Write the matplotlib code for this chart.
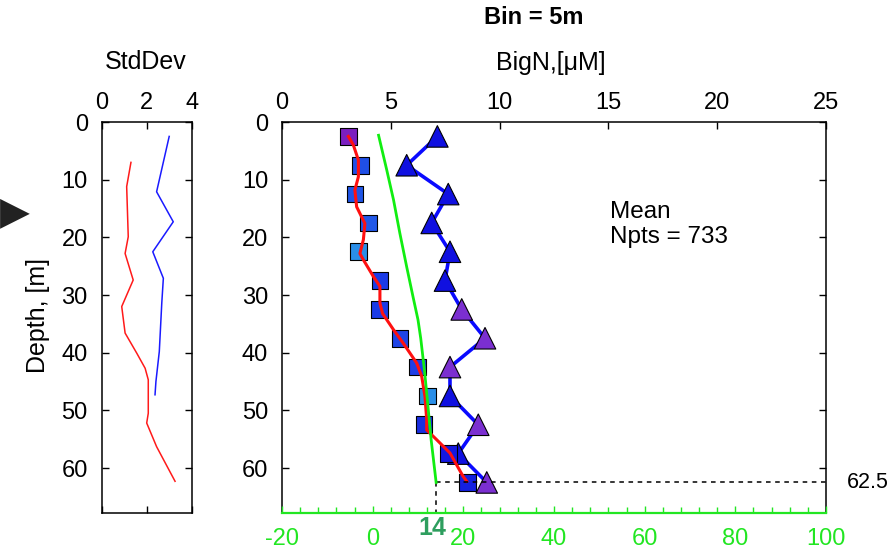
"""
Depth profile of BigN (5 m bins) with a std-dev side panel.
"""

import matplotlib
matplotlib.use('Agg')
from matplotlib import pyplot as plt
from matplotlib import ticker

plt.rcParams['font.family'] = ['Liberation Sans', 'DejaVu Sans']
plt.rcParams['axes.unicode_minus'] = False

# binned means, 5 m bins
depth_bins = [2.5, 7.5, 12.5, 17.5, 22.5, 27.5, 32.5, 37.5, 42.5, 47.5, 52.5, 57.5, 62.5]
square_vals = [3.05, 3.62, 3.35, 3.97, 3.51, 4.50, 4.47, 5.42, 6.22, 6.68, 6.53, 7.64, 8.52]
triangle_vals = [7.14, 5.73, 7.64, 6.88, 7.72, 7.49, 8.26, 9.33, 7.72, 7.72, 9.02, 8.10, 9.41]
square_colors = ['#7b1fc0', '#1f4fe6', '#1f55e6', '#2158e8', '#2a8ee8', '#1a3ae6', '#1a3ae6',
                 '#1f44e6', '#1f3ee6', '#2a8ee8', '#1a2ee0', '#1418e0', '#1420e0']
triangle_colors = ['#1010e0', '#1010e0', '#1010e0', '#1010e0', '#1010e0', '#1010e0', '#7b2fd0',
                   '#7b2fd0', '#7b2fd0', '#1010e0', '#7b2fd0', '#1010e0', '#7b2fd0']

# smoothed profile (red)
red_depth = [2.5, 4.0, 6.6, 9.5, 11.8, 14.7, 17.6, 20.4, 22.8, 23.9, 26.8, 28.5, 31.4, 33.2,
             36.0, 38.4, 41.8, 44.1, 47.6, 51.6, 53.4, 55.1, 57.4, 61.5, 62.3]
red_vals = [3.05, 3.28, 3.51, 3.51, 3.35, 3.43, 3.81, 3.74, 3.58, 3.74, 4.20, 4.50, 4.50, 4.62,
            5.12, 5.58, 6.19, 6.42, 6.57, 6.65, 6.65, 7.11, 7.72, 8.33, 8.49]

# green profile on the lower (-20..100) axis
green_depth = [2.3, 8.3, 13.5, 19.3, 25.1, 30.3, 34.3, 37.5, 43.6, 49.3, 55.1, 62.5]
green_vals = [1.3, 3.1, 4.6, 6.0, 7.5, 8.9, 10.0, 10.6, 11.5, 12.2, 12.9, 14.0]
max_depth = 62.5
green_mark = 14

# standard deviations
std_blue_depth = [2.5, 12.1, 17.3, 22.5, 27.1, 31.4, 39.8, 45.0, 47.3]
std_blue = [3.0, 2.44, 3.18, 2.27, 2.74, 2.67, 2.56, 2.41, 2.37]
std_red_depth = [7.0, 11.2, 19.9, 22.8, 27.4, 32.0, 36.6, 40.1, 42.7, 44.7, 50.5, 52.2, 56.3, 62.3]
std_red = [1.30, 1.11, 1.18, 1.04, 1.40, 0.89, 1.04, 1.56, 1.93, 2.07, 2.07, 2.00, 2.44, 3.26]

W, H = 894, 555
fig = plt.figure(figsize=(W / 100, H / 100), dpi=100)
green = '#22e622'
tick_fs = 17

# --- std dev panel ---
ax_s = fig.add_axes([101.7 / W, 1 - 513 / H, 90 / W, 391 / H])
ax_s.plot(std_blue, std_blue_depth, color='#1a1aff', lw=1.1)
ax_s.plot(std_red, std_red_depth, color='#ff1a1a', lw=1.1)
ax_s.set_xlim(0, 4)
ax_s.set_ylim(67.8, 0)
ax_s.set_xticks([0, 2, 4])
ax_s.set_yticks(range(0, 61, 10))
ax_s.xaxis.set_ticks_position('both')
ax_s.yaxis.set_ticks_position('both')
ax_s.tick_params(direction='in', length=5, width=1, labelsize=tick_fs)
ax_s.tick_params(axis='x', labeltop=True, labelbottom=False, pad=6)
ax_s.tick_params(axis='y', pad=10)
ax_s.set_ylabel('Depth, [m]', fontsize=18)
ax_s.yaxis.set_label_coords(-0.58, 0.506)
for sp in ax_s.spines.values():
    sp.set_linewidth(1.1)

# --- main panel ---
ax = fig.add_axes([282 / W, 1 - 513 / H, 544 / W, 391 / H])
ax2 = ax.twiny()

ax.plot(triangle_vals, depth_bins, color='#0a0aff', lw=2.6, zorder=2)
ax.scatter(triangle_vals, depth_bins, marker='^', s=15.5 ** 2, c=triangle_colors,
           edgecolors='black', linewidths=0.8, zorder=3)
ax.scatter(square_vals, depth_bins, marker='s', s=12 ** 2, c=square_colors,
           edgecolors='black', linewidths=0.8, zorder=4)
ax.plot(red_vals, red_depth, color='#ff1010', lw=2.2, zorder=5)
ax.set_xlim(0, 25)
ax.set_ylim(67.8, 0)
ax.set_xticks(range(0, 26, 5))
ax.set_yticks(range(0, 61, 10))
ax.xaxis.set_ticks_position('top')
ax.xaxis.set_label_position('top')
ax.yaxis.set_ticks_position('both')
ax.tick_params(direction='in', length=5, width=1, labelsize=tick_fs)
ax.tick_params(axis='x', pad=6, labeltop=True, labelbottom=False, bottom=False)
ax.tick_params(axis='y', pad=10)
ax.spines['bottom'].set_visible(False)
for sp in ax.spines.values():
    sp.set_linewidth(1.1)

ax.text(0.603, 0.738, 'Mean\nNpts = 733', transform=ax.transAxes, fontsize=17.5,
        ha='left', va='center', linespacing=1.2)

# lower green axis
ax2.set_xlim(-20, 100)
ax2.xaxis.set_ticks_position('bottom')
ax2.xaxis.set_label_position('bottom')
ax2.set_xticks(range(-20, 101, 20))
ax2.xaxis.set_minor_locator(ticker.MultipleLocator(4))
ax2.tick_params(axis='x', which='both', direction='in', colors=green, labelsize=tick_fs,
                width=1, pad=11, top=False, labeltop=False)
ax2.tick_params(axis='x', which='major', length=5)
ax2.tick_params(axis='x', which='minor', length=4)
for name in ['top', 'left', 'right']:
    ax2.spines[name].set_visible(False)
ax2.spines['bottom'].set_color(green)
ax2.spines['bottom'].set_linewidth(1.6)

ax2.plot(green_vals, green_depth, color='#11ee11', lw=2.0, zorder=3)
ax2.plot([green_mark, green_mark], [max_depth, 67.8], color='black', ls=(0, (3, 3)), lw=1.1)
ax2.plot([green_mark, 100], [max_depth, max_depth], color='black', ls=(0, (3, 3)), lw=1.1)
ax2.annotate(str(green_mark), xy=(green_mark, 0), xycoords=('data', 'axes fraction'),
             xytext=(-3, -11), textcoords='offset points', ha='center', va='center',
             fontsize=18, fontweight='bold', color='#2e9e5e')
ax2.annotate(str(max_depth), xy=(1, max_depth), xycoords=('axes fraction', 'data'),
             xytext=(15, 0), textcoords='offset points', ha='left', va='center',
             fontsize=15.5)

# titles
fig.text(534 / W, 1 - 18 / H, 'Bin = 5m', fontsize=17, fontweight='bold',
         ha='center', va='center')
fig.text(551 / W, 1 - 63 / H, 'BigN,[μM]', fontsize=18, ha='center', va='center')
fig.text(146 / W, 1 - 62 / H, 'StdDev', fontsize=18, ha='center', va='center')

# arrow at left edge
fig.text(0.0, 1 - 212 / H, '▶', family='DejaVu Sans', fontsize=28, color='#222222',
         ha='left', va='center')

fig.savefig('out.png', dpi=100)
